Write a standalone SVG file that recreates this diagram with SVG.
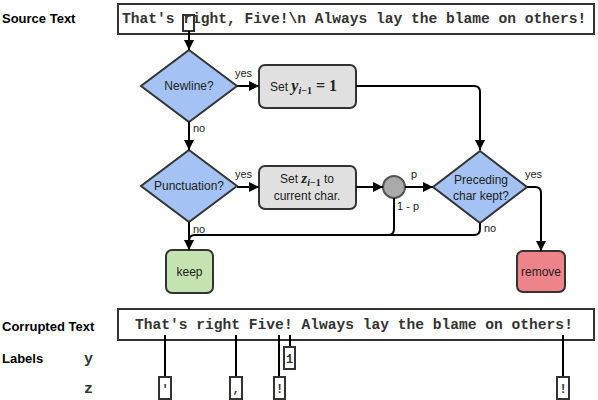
<svg xmlns="http://www.w3.org/2000/svg" width="598" height="400" viewBox="0 0 598 400">
<defs>
<marker id="ah" viewBox="0 0 10 10" refX="10" refY="5" markerWidth="5" markerHeight="5" orient="auto" markerUnits="strokeWidth">
<path d="M0,0 L10,5 L0,10 z" fill="#000"/>
</marker>
<style>
.lbl{font-family:"Liberation Sans",Arial,sans-serif;font-weight:bold;font-size:13px;fill:#000}
.mono{font-family:"Liberation Mono","Courier New",monospace;font-weight:bold;fill:#333}
.tb{fill:#fff;stroke:#333;stroke-width:2}
.dia{fill:#a4c2f4;stroke:#333;stroke-width:2}
.box{fill:#e0e0e0;stroke:#333;stroke-width:2}
.t{font-family:"Liberation Sans",Arial,sans-serif;font-size:12px;fill:#222}
.s{font-family:"Liberation Sans",Arial,sans-serif;font-size:11px;fill:#222}
.m{font-family:"Liberation Serif","DejaVu Serif",serif;font-weight:bold;fill:#222}
.c{fill:none;stroke:#000;stroke-width:2}
.lb{fill:#fff;stroke:#333;stroke-width:2}
</style>
</defs>

<g id="source">
<text class="lbl" x="2" y="23">Source Text</text>
<rect class="tb" x="118" y="4" width="476" height="30"/>
<text class="mono" x="122" y="23" font-size="14.6">That's right, Five!\n Always lay the blame on others!</text>
<rect x="183" y="15" width="11" height="16" fill="none" stroke="#333" stroke-width="2"/>
</g>

<g id="newline">
<polygon class="dia" points="189,50 237,86 189,122 141,86"/>
<text class="t" x="189" y="90" text-anchor="middle">Newline?</text>
</g>

<g id="sety">
<rect class="box" x="259" y="65" width="97" height="43" rx="6"/>
<text x="270" y="91"><tspan class="t">Set </tspan><tspan class="m" font-style="italic" font-size="16">y</tspan><tspan class="m" font-style="italic" font-size="10" dy="3">i</tspan><tspan class="m" font-size="10">−1</tspan><tspan class="m" font-size="16" dy="-3"> = 1</tspan></text>
</g>

<g id="punct">
<polygon class="dia" points="189,150 237,186 189,222 141,186"/>
<text class="t" x="189" y="190" text-anchor="middle">Punctuation?</text>
</g>

<g id="setz">
<rect class="box" x="259" y="166" width="97" height="43" rx="6"/>
<text x="307" y="183" text-anchor="middle"><tspan class="t">Set </tspan><tspan class="m" font-style="italic" font-size="15">z</tspan><tspan class="m" font-style="italic" font-size="10" dy="3">i</tspan><tspan class="m" font-size="10">−1</tspan><tspan class="t" dy="-3"> to</tspan></text>
<text class="t" x="307" y="200" text-anchor="middle">current char.</text>
</g>

<g id="chance">
<circle cx="394" cy="187" r="11" fill="#aaa" stroke="#555" stroke-width="2"/>
</g>

<g id="preceding">
<polygon class="dia" points="480,151 527,187 480,223 433,187"/>
<text class="t" x="481" y="184" text-anchor="middle">Preceding</text>
<text class="t" x="481" y="200" text-anchor="middle">char kept?</text>
</g>

<g id="keep">
<rect x="166" y="250" width="47" height="43" rx="6" fill="#c4e3b0" stroke="#333" stroke-width="2"/>
<text class="t" x="189.5" y="276" text-anchor="middle">keep</text>
</g>

<g id="remove">
<rect x="517" y="251" width="48" height="41" rx="6" fill="#ee838a" stroke="#333" stroke-width="2"/>
<text class="t" x="541" y="276" text-anchor="middle">remove</text>
</g>

<g id="connectors">
<line class="c" x1="189" y1="31" x2="189" y2="50" marker-end="url(#ah)"/>
<line class="c" x1="237" y1="86" x2="259" y2="86" marker-end="url(#ah)"/>
<path class="c" d="M356,86 H474 Q480,86 480,92 V150" marker-end="url(#ah)"/>
<line class="c" x1="189" y1="122" x2="189" y2="150" marker-end="url(#ah)"/>
<line class="c" x1="237" y1="187" x2="259" y2="187" marker-end="url(#ah)"/>
<line class="c" x1="356" y1="187" x2="383" y2="187" marker-end="url(#ah)"/>
<line class="c" x1="405" y1="187" x2="433" y2="187" marker-end="url(#ah)"/>
<path class="c" d="M527,187 H535 Q541,187 541,193 V251" marker-end="url(#ah)"/>
<line class="c" x1="189" y1="222" x2="189" y2="250" marker-end="url(#ah)"/>
<path class="c" d="M480,223 V229 Q480,235 474,235 H195 Q189,235 189,241"/>
<path class="c" d="M394,198 V229 Q394,235 388,235"/>
<text class="s" x="235" y="77">yes</text>
<text class="s" x="193" y="132">no</text>
<text class="s" x="235" y="178">yes</text>
<text class="s" x="193" y="233">no</text>
<text class="s" x="411" y="178">p</text>
<text class="s" x="397" y="210">1 - p</text>
<text class="s" x="525" y="178">yes</text>
<text class="s" x="484" y="232">no</text>
</g>

<g id="corrupted">
<text class="lbl" x="2" y="331">Corrupted Text</text>
<rect class="tb" x="118" y="309" width="476" height="31"/>
<text class="mono" x="135" y="329" font-size="14.6">That's right Five! Always lay the blame on others!</text>
</g>

<g id="labels">
<text class="lbl" x="2" y="363">Labels</text>
<text class="mono" x="84" y="363" font-size="15" fill="#000">y</text>
<text class="mono" x="84" y="393" font-size="15" fill="#000">z</text>
<g stroke="#000" stroke-width="2">
<line x1="165" y1="335" x2="165" y2="377"/>
<line x1="236" y1="335" x2="236" y2="377"/>
<line x1="279" y1="335" x2="279" y2="377"/>
<line x1="290" y1="335" x2="290" y2="347"/>
<line x1="563" y1="335" x2="563" y2="377"/>
</g>
<rect class="lb" x="284" y="347" width="11" height="22"/>
<text class="mono" x="289.5" y="363" font-size="12" text-anchor="middle">1</text>
<rect class="lb" x="159" y="377" width="12" height="22"/>
<text class="mono" x="165" y="393" font-size="12" text-anchor="middle">'</text>
<rect class="lb" x="230" y="377" width="12" height="22"/>
<text class="mono" x="236" y="393" font-size="12" text-anchor="middle">,</text>
<rect class="lb" x="274" y="377" width="11" height="22"/>
<text class="mono" x="279.5" y="393" font-size="12" text-anchor="middle">!</text>
<rect class="lb" x="557" y="377" width="12" height="22"/>
<text class="mono" x="563" y="393" font-size="12" text-anchor="middle">!</text>
</g>
</svg>
